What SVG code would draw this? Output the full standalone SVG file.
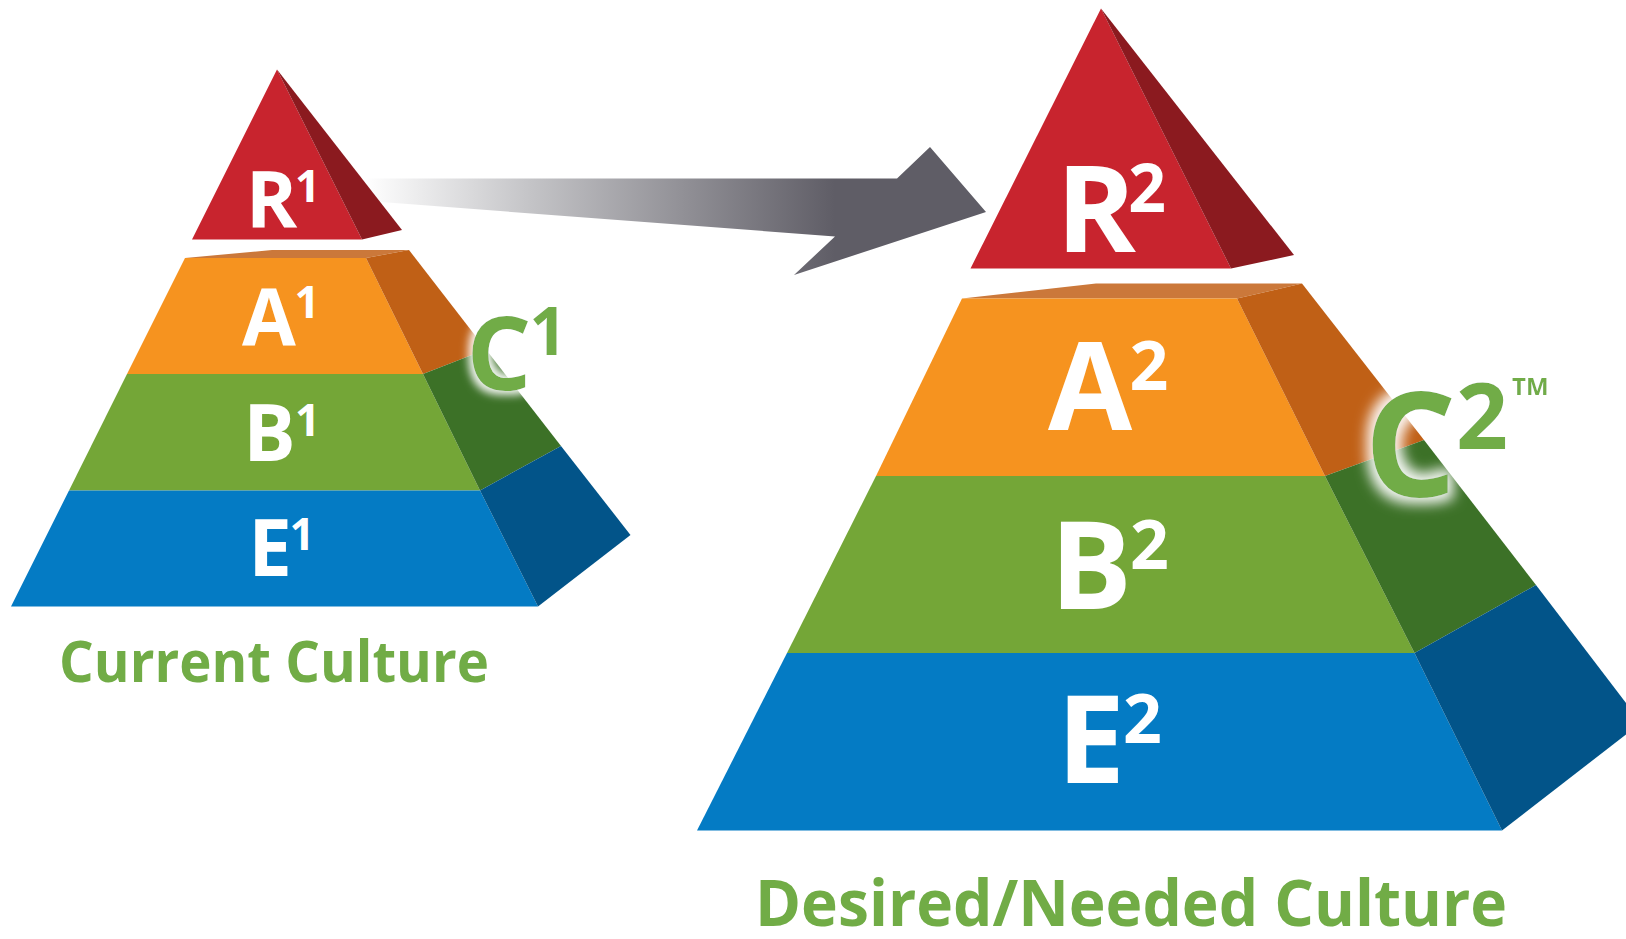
<svg xmlns="http://www.w3.org/2000/svg" width="1626" height="939" viewBox="0 0 1626 939">
  <style>
    .lt { font-family: "Open Sans", "Liberation Sans", sans-serif; font-weight: 700; fill: #ffffff; text-anchor: middle; }
    .gr { font-family: "Open Sans", "Liberation Sans", sans-serif; font-weight: 700; fill: #71AC46; }
    .grm { font-family: "Open Sans", "Liberation Sans", sans-serif; font-weight: 700; fill: #71AC46; text-anchor: middle; }
    .rf { fill: #C8242E; } .rs { fill: #8B1A1F; }
    .of { fill: #F6931F; } .os { fill: #C06016; } .ot { fill: #CB783A; }
    .gf { fill: #74A637; } .gs { fill: #3C7127; }
    .bf { fill: #047BC4; } .bs { fill: #025489; }
  </style>
  <defs>
    <linearGradient id="arrowGrad" gradientUnits="userSpaceOnUse" x1="365" y1="0" x2="835" y2="0">
      <stop offset="0" stop-color="#ffffff"/>
      <stop offset="0.35" stop-color="#c4c4c7"/>
      <stop offset="1" stop-color="#5F5D66"/>
    </linearGradient>
    <filter id="glowS" x="-40%" y="-40%" width="180%" height="180%">
      <feMorphology in="SourceAlpha" operator="dilate" radius="4" result="d"/>
      <feGaussianBlur in="d" stdDeviation="4.5" result="b"/>
      <feFlood flood-color="#ffffff" flood-opacity="0.95"/>
      <feComposite in2="b" operator="in" result="g"/>
      <feMerge><feMergeNode in="g"/><feMergeNode in="SourceGraphic"/></feMerge>
    </filter>
    <filter id="glowL" x="-40%" y="-40%" width="180%" height="180%">
      <feMorphology in="SourceAlpha" operator="dilate" radius="6" result="d"/>
      <feGaussianBlur in="d" stdDeviation="6.5" result="b"/>
      <feFlood flood-color="#ffffff" flood-opacity="0.95"/>
      <feComposite in2="b" operator="in" result="g"/>
      <feMerge><feMergeNode in="g"/><feMergeNode in="SourceGraphic"/></feMerge>
    </filter>
  </defs>

  <rect width="1626" height="939" fill="#ffffff"/>

  <!-- transition arrow between the two pyramids -->
  <g id="connectors">
    <polygon fill="url(#arrowGrad)" points="355,178.5 897,178.5 930,147 986,212 794,275 835,236.5 355,200"/>
  </g>

  <!-- current culture pyramid -->
  <g id="pyramid-current">
    <g id="r1">
      <polygon class="rf" points="277,69.5 192,239.5 362,239.5"/>
      <polygon class="rs" points="277,69.5 362,239.5 402,230"/>
      <text class="lt" x="271.5" y="228" font-size="78">R</text>
      <text class="lt" x="307.5" y="202" font-size="44">1</text>
    </g>
    <g id="a1">
      <polygon class="ot" points="185,258 272,250 409,250 366,258"/>
      <polygon class="of" points="185,258 366,258 423,374 127,374"/>
      <polygon class="os" points="366,258 409,250 486,349.5 423,374"/>
      <text class="lt" x="269" y="345" font-size="78">A</text>
      <text class="lt" x="307" y="318" font-size="44">1</text>
    </g>
    <g id="b1">
      <polygon class="gf" points="127,374 423,374 480,490.5 69,490.5"/>
      <polygon class="gs" points="423,374 486,349.5 561,446 480,490.5"/>
      <text class="lt" x="269.5" y="461" font-size="78">B</text>
      <text class="lt" x="307.5" y="436" font-size="44">1</text>
    </g>
    <g id="e1">
      <polygon class="bf" points="69,490.5 480,490.5 538,606.5 11,606.5"/>
      <polygon class="bs" points="480,490.5 561,446 630.5,535 538,606.5"/>
      <text class="lt" x="270" y="576" font-size="78">E</text>
      <text class="lt" x="302" y="550" font-size="44">1</text>
    </g>
    <g id="c1" filter="url(#glowS)">
      <text class="grm" x="499" y="390" font-size="102">C</text>
      <text class="grm" x="548" y="355" font-size="66">1</text>
    </g>
    <g id="label-current">
      <text class="gr" x="59" y="682" font-size="57" textLength="430" lengthAdjust="spacingAndGlyphs">Current Culture</text>
    </g>
  </g>

  <!-- desired / needed culture pyramid -->
  <g id="pyramid-desired">
    <g id="r2">
      <polygon class="rf" points="1101,8.5 970.5,268.5 1231,268.5"/>
      <polygon class="rs" points="1101,8.5 1231,268.5 1294,255"/>
      <text class="lt" x="1096" y="252" font-size="121">R</text>
      <text class="lt" x="1147" y="212" font-size="66">2</text>
    </g>
    <g id="a2">
      <polygon class="ot" points="962,298.5 1096,283.5 1302,283.5 1237,298.5"/>
      <polygon class="of" points="962,298.5 1237,298.5 1325,476 876,476"/>
      <polygon class="os" points="1237,298.5 1302,283.5 1424,440 1325,476"/>
      <text class="lt" x="1090" y="430" font-size="122">A</text>
      <text class="lt" x="1149" y="390" font-size="68">2</text>
    </g>
    <g id="b2">
      <polygon class="gf" points="876,476 1325,476 1414.5,653 787,653"/>
      <polygon class="gs" points="1325,476 1424,440 1536,585 1414.5,653"/>
      <text class="lt" x="1091" y="609" font-size="122">B</text>
      <text class="lt" x="1149.5" y="569" font-size="68">2</text>
    </g>
    <g id="e2">
      <polygon class="bf" points="787,653 1414.5,653 1502,830.5 697,830.5"/>
      <polygon class="bs" points="1414.5,653 1536,585 1626,703 1626,734.5 1502,830.5"/>
      <text class="lt" x="1091" y="783" font-size="122">E</text>
      <text class="lt" x="1142.5" y="743" font-size="68">2</text>
    </g>
    <g id="c2" filter="url(#glowL)">
      <text class="grm" x="1410.5" y="496.5" font-size="145">C</text>
      <text class="grm" x="1482" y="449" font-size="91">2</text>
      <text class="gr" x="1512" y="395" font-size="24">TM</text>
    </g>
    <g id="label-desired">
      <text class="gr" x="755" y="926" font-size="64" textLength="752" lengthAdjust="spacingAndGlyphs">Desired/Needed Culture</text>
    </g>
  </g>
</svg>
